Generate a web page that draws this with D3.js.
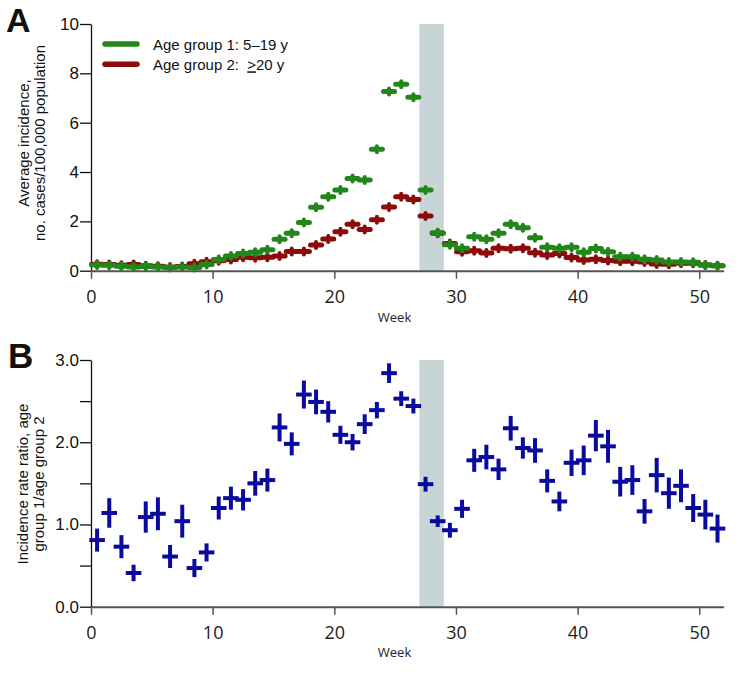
<!DOCTYPE html>
<html>
<head>
<meta charset="utf-8">
<script src="https://cdn.jsdelivr.net/npm/d3@7"></script>
<style>
  body { margin: 0; background: #fff; }
  svg { display: block; }
  .sans { font-family: 'Liberation Sans', Arial, sans-serif; }
  .open { font-family: 'Open Sans', sans-serif; }
</style>
</head>
<body>
<svg id="chart" width="750" height="677"></svg>
<script>
// week midpoints (weeks 0..51)
const weeks = [0.5, 1.5, 2.5, 3.5, 4.5, 5.5, 6.5, 7.5, 8.5, 9.5, 10.5, 11.5, 12.5,
  13.5, 14.5, 15.5, 16.5, 17.5, 18.5, 19.5, 20.5, 21.5, 22.5, 23.5, 24.5, 25.5,
  26.5, 27.5, 28.5, 29.5, 30.5, 31.5, 32.5, 33.5, 34.5, 35.5, 36.5, 37.5, 38.5,
  39.5, 40.5, 41.5, 42.5, 43.5, 44.5, 45.5, 46.5, 47.5, 48.5, 49.5, 50.5, 51.5]

// Panel A: average incidence per 100,000
const age1 = [0.23, 0.22, 0.18, 0.15, 0.17, 0.15, 0.13, 0.15, 0.13, 0.25, 0.45, 0.6, 0.7,
  0.75, 0.85, 1.27, 1.52, 1.95, 2.57, 3.0, 3.27, 3.74, 3.68, 4.92, 7.26, 7.56,
  7.03, 3.27, 1.54, 1.05, 0.91, 1.38, 1.27, 1.52, 1.88, 1.74, 1.34, 0.95, 0.91,
  0.95, 0.75, 0.9, 0.77, 0.57, 0.57, 0.46, 0.43, 0.35, 0.35, 0.34, 0.23, 0.2]
const age2 = [0.26, 0.25, 0.22, 0.25, 0.2, 0.18, 0.15, 0.17, 0.28, 0.36, 0.4, 0.45, 0.55,
  0.52, 0.55, 0.6, 0.78, 0.78, 1.04, 1.28, 1.58, 1.88, 1.67, 2.07, 2.58, 3.0,
  2.89, 2.22, 1.52, 1.1, 0.77, 0.81, 0.72, 0.91, 0.89, 0.91, 0.73, 0.64, 0.7,
  0.54, 0.43, 0.46, 0.41, 0.38, 0.38, 0.35, 0.27, 0.26, 0.3, 0.3, 0.23, 0.2]

// Panel B: incidence rate ratio with 95% CI
const ratio = [0.81, 1.14, 0.73, 0.41, 1.09, 1.13, 0.61, 1.04, 0.47, 0.66, 1.2, 1.32, 1.3,
  1.5, 1.54, 2.18, 1.98, 2.58, 2.49, 2.37, 2.09, 2.0, 2.22, 2.39, 2.84, 2.53,
  2.44, 1.49, 1.04, 0.93, 1.19, 1.78, 1.82, 1.67, 2.17, 1.93, 1.9, 1.53, 1.28,
  1.75, 1.78, 2.08, 1.95, 1.52, 1.54, 1.16, 1.6, 1.38, 1.47, 1.2, 1.12, 0.95]
const ratioLo = [0.67, 0.96, 0.59, 0.31, 0.9, 0.93, 0.47, 0.84, 0.36, 0.55, 1.06, 1.18, 1.17,
  1.35, 1.4, 2.01, 1.84, 2.41, 2.34, 2.24, 1.98, 1.9, 2.1, 2.29, 2.72, 2.44,
  2.35, 1.4, 0.97, 0.84, 1.08, 1.64, 1.67, 1.54, 2.02, 1.8, 1.75, 1.39, 1.16,
  1.59, 1.6, 1.89, 1.75, 1.34, 1.36, 1.01, 1.39, 1.19, 1.27, 1.03, 0.94, 0.78]
const ratioHi = [0.95, 1.32, 0.87, 0.51, 1.28, 1.33, 0.75, 1.24, 0.58, 0.77, 1.34, 1.46, 1.43,
  1.65, 1.68, 2.35, 2.12, 2.75, 2.64, 2.5, 2.2, 2.1, 2.34, 2.49, 2.96, 2.62,
  2.53, 1.58, 1.11, 1.02, 1.3, 1.92, 1.97, 1.8, 2.32, 2.06, 2.05, 1.67, 1.4,
  1.91, 1.96, 2.27, 2.15, 1.7, 1.72, 1.31, 1.81, 1.57, 1.67, 1.37, 1.3, 1.12]

const band = [27, 29]
const xTicks = [0, 10, 20, 30, 40, 50]
const yTicksA = [0, 2, 4, 6, 8, 10]
const yTicksB = [0, 0.5, 1, 1.5, 2, 2.5, 3]

const green = '#22861b'
const red = '#8c0b0b'
const blue = '#0a0a9e'

const svg = d3.select('#chart')

const x = d3.scaleLinear().domain([0, 52]).range([91, 723.6])
const yA = d3.scaleLinear().domain([0, 10]).range([270.7, 24])
const yB = d3.scaleLinear().domain([0, 3]).range([606.7, 360])

// shared axis drawing
const drawAxes = (y, ticks, fmt, baseY) => {
	svg.append('rect')
		.attr('x', x(band[0]))
		.attr('width', x(band[1]) - x(band[0]))
		.attr('y', y.range()[1])
		.attr('height', y.range()[0] - y.range()[1])
		.attr('fill', '#c9d4d6')

	const gy = svg.append('g')
		.attr('transform', 'translate(91,0)')
		.call(d3.axisLeft(y).tickValues(ticks).tickSize(11).tickSizeOuter(0).tickPadding(1).tickFormat(fmt))
	gy.select('.domain').attr('stroke', '#111').attr('stroke-width', 1.3)
	gy.selectAll('.tick line').attr('stroke', '#111').attr('stroke-width', 1.3)
	gy.selectAll('text')
		.attr('class', 'sans')
		.attr('font-size', 17)
		.attr('fill', '#111')

	const gx = svg.append('g')
		.attr('transform', `translate(0,${baseY})`)
		.call(d3.axisBottom(x).tickValues(xTicks).tickSize(8).tickSizeOuter(0))
	gx.select('.domain').attr('stroke', '#555').attr('stroke-width', 2)
	gx.selectAll('.tick line').attr('stroke', '#555').attr('stroke-width', 1.5)
	gx.selectAll('text')
		.attr('class', 'open')
		.attr('font-size', 18)
		.attr('fill', '#222')
		.attr('y', 32.6)
		.attr('dy', null)
}

// Panel A
drawAxes(yA, yTicksA, d3.format('d'), 270.7)

const drawDashes = (vals, color) => {
	const g = svg.append('g')
	const pts = g.selectAll('g').data(weeks).enter().append('g')
		.attr('transform', (d, i) => `translate(${x(d)},${yA(vals[i])})`)
	pts.append('line')
		.attr('x1', -5.5).attr('x2', 5.5)
		.attr('stroke', color).attr('stroke-width', 5).attr('stroke-linecap', 'round')
	pts.append('line')
		.attr('y1', -3).attr('y2', 3)
		.attr('stroke', color).attr('stroke-width', 4).attr('stroke-linecap', 'round')
}
drawDashes(age2, red)
drawDashes(age1, green)

// legend
const legend = [
	{ color: green, label: 'Age group 1: 5\u201319 y', y: 44 },
	{ color: red, label: 'Age group 2:  ', y: 64.3 }
]
legend.forEach((l, i) => {
	svg.append('line')
		.attr('x1', 105).attr('x2', 137).attr('y1', l.y).attr('y2', l.y)
		.attr('stroke', l.color).attr('stroke-width', 5.5).attr('stroke-linecap', 'round')
	const t = svg.append('text')
		.attr('class', 'sans')
		.attr('x', 153).attr('y', l.y + 6)
		.attr('font-size', 15)
		.attr('fill', '#111')
		.attr('xml:space', 'preserve')
		.style('white-space', 'pre')
		.text(l.label)
	if (i === 1) {
		t.append('tspan').style('text-decoration', 'underline').text('>')
		t.append('tspan').text('20 y')
	}
})

// y label A
const yLabel = (lines, cy) => {
	lines.forEach((l) => {
		svg.append('text')
			.attr('class', 'sans')
			.attr('transform', `translate(${l.x},${cy}) rotate(-90)`)
			.attr('text-anchor', 'middle')
			.attr('font-size', 15)
			.attr('fill', '#111')
			.text(l.t)
	})
}
yLabel([{ t: 'Average incidence,', x: 29 }, { t: 'no. cases/100,000 population', x: 45 }], 143)

svg.append('text').attr('class', 'open')
	.attr('x', 394.5).attr('y', 321.7).attr('text-anchor', 'middle')
	.attr('font-size', 13).attr('fill', '#222').text('Week')

svg.append('text').attr('class', 'sans')
	.attr('x', 6).attr('y', 32).attr('font-size', 34).attr('font-weight', 'bold')
	.attr('fill', '#111').text('A')

// Panel B
drawAxes(yB, yTicksB, (d) => (d % 1 === 0 ? d3.format('.1f')(d) : ''), 606.7)

const crosses = svg.append('g').selectAll('g').data(weeks).enter().append('g')
crosses.append('line')
	.attr('x1', (d) => x(d) - 7.8).attr('x2', (d) => x(d) + 7.8)
	.attr('y1', (d, i) => yB(ratio[i])).attr('y2', (d, i) => yB(ratio[i]))
	.attr('stroke', blue).attr('stroke-width', 4)
crosses.append('line')
	.attr('x1', (d) => x(d)).attr('x2', (d) => x(d))
	.attr('y1', (d, i) => yB(ratioLo[i])).attr('y2', (d, i) => yB(ratioHi[i]))
	.attr('stroke', blue).attr('stroke-width', 4)

yLabel([{ t: 'Incidence rate ratio, age', x: 28 }, { t: 'group 1/age group 2', x: 44 }], 484)

svg.append('text').attr('class', 'open')
	.attr('x', 394.5).attr('y', 657).attr('text-anchor', 'middle')
	.attr('font-size', 13).attr('fill', '#222').text('Week')

svg.append('text').attr('class', 'sans')
	.attr('x', 8).attr('y', 368).attr('font-size', 35).attr('font-weight', 'bold')
	.attr('fill', '#111').text('B')
</script>
</body>
</html>
